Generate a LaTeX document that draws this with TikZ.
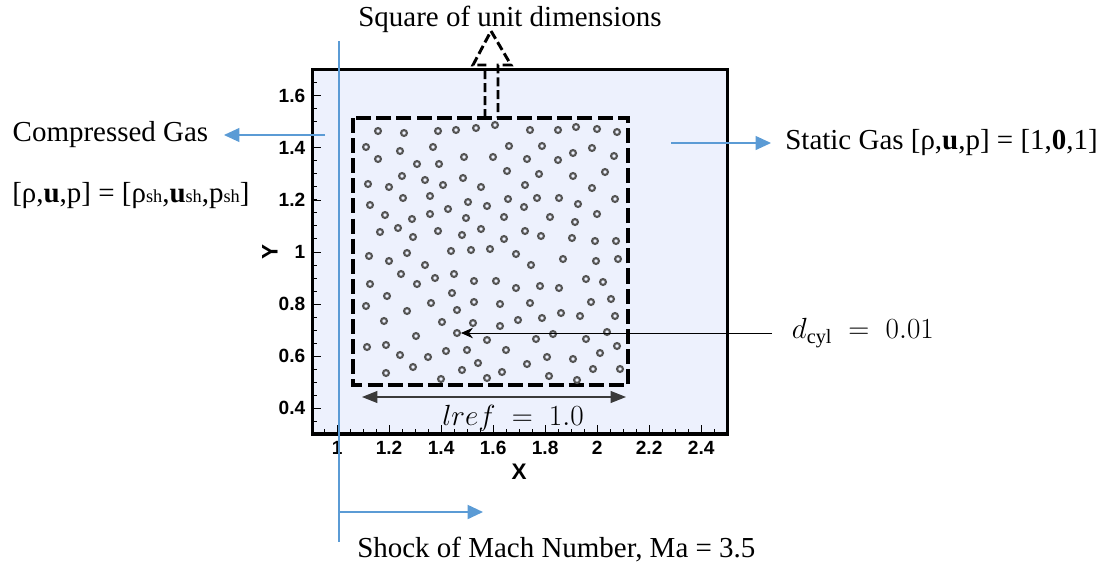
\documentclass[tikz,border=0pt]{standalone}
\usepackage{fontspec}
\setmainfont{Liberation Serif}
\newfontfamily\axisfont{Liberation Sans}
\usetikzlibrary{positioning,arrows.meta}
\definecolor{plotbg}{HTML}{EDF1FD}
\definecolor{shockblue}{HTML}{5B9BD5}
\definecolor{cylgrey}{HTML}{555555}
\definecolor{dimgrey}{HTML}{3A3A3A}
\newcommand{\bigtext}{\fontsize{20.6}{24}\selectfont}
\newcommand{\subsh}{{\fontsize{13}{13}\selectfont sh}}
\tikzset{
  lbl/.style       = {font=\bigtext, inner sep=0pt},
  ticklab/.style   = {font=\axisfont\bfseries\fontsize{13.6}{14}\selectfont, inner sep=0pt},
  axlab/.style     = {font=\axisfont\bfseries\fontsize{16}{18}\selectfont, inner sep=0pt},
  plotframe/.style = {draw=black, line width=2.2pt},
  tickmark/.style  = {line width=0.6pt},
  unitsq/.style    = {draw=black, line width=2.3pt, dash pattern=on 10.7pt off 3.6pt},
  sqarrow/.style   = {draw=black, line width=2.1pt, dash pattern=on 6.4pt off 2.8pt, line join=miter},
  cyl/.style       = {circle, draw=cylgrey, line width=1.5pt, minimum size=4.2pt, inner sep=0pt},
  bluearr/.style   = {-{Triangle[length=11pt, width=10pt]}, line width=0.8pt, draw=shockblue},
  shockline/.style = {line width=1.8pt, draw=shockblue},
  blkarr/.style    = {-{Stealth[length=8.5pt, width=7.5pt]}, line width=0.7pt},
  dimarr/.style    = {{Triangle[length=11pt, width=8.5pt]}-{Triangle[length=11pt, width=8.5pt]},
                      line width=0.9pt, draw=dimgrey},
}

\begin{document}
\begin{tikzpicture}[x=0.025cm, y=-0.025cm]
  \useasboundingbox (0,0) rectangle (1115,566);

  % --- plot axes, in data coordinates ---
  \begin{scope}[shift={(77,512)}, x=6.5cm, y=6.5cm]
    \fill[plotbg] (0.905,0.3) rectangle (2.5,1.7);
    \foreach \k in {19,...,50}
      \draw[tickmark] (\k*0.05,0.3) -- ++(0,0.019);
    \foreach \k in {6,...,34}
      \draw[tickmark] (0.905,\k*0.05) -- ++(0.019,0);
    \foreach \v [count=\i] in {1,1.2,1.4,1.6,1.8,2,2.2,2.4} {
      \draw[tickmark] (\v,0.3) -- ++(0,0.035);
      \node[ticklab] (xt\i) at (\v,0.246) {\v};
    }
    \foreach \v [count=\i] in {0.4,0.6,0.8,1,1.2,1.4,1.6} {
      \draw[tickmark] (0.905,\v) -- ++(0.035,0);
      \node[ticklab, anchor=east] (yt\i) at (0.879,\v) {\v};
    }
    \draw[plotframe] (0.905,0.3) rectangle (2.5,1.7);
    \node[axlab] (xlab) at (1.7,0.154) {X};
    \node[axlab, rotate=90] (ylab) at (0.742,1) {Y};
  \end{scope}

  % --- square of cylinders ---
  \draw[unitsq] (353,118) rectangle (628,385);
  \foreach \cx/\cy [count=\i] in {
      378/131, 404/133, 438/131, 456/130, 476/128, 366/147, 400/151, 433/147,
      378/159, 417/164, 439/164, 464/157, 402/176, 425/180, 463/178, 368/184,
      389/187, 443/185, 481/187, 403/198, 430/196, 370/205, 468/202, 487/206,
      448/209, 385/215, 412/219, 430/214, 466/218, 380/232, 398/228, 413/237,
      438/231, 462/235, 481/229,
      495/125, 530/130, 558/130, 576/127, 597/129, 617/132, 509/146, 542/146,
      573/153, 592/148, 493/157, 527/159, 558/160, 614/156, 507/171, 539/174,
      573/176, 605/172, 525/185, 592/188, 508/199, 537/198, 559/198, 524/207,
      578/204, 615/199, 504/217, 550/217, 575/222, 597/214, 525/231, 504/239,
      541/236, 572/238, 595/241, 616/241,
      369/256, 389/261, 407/253, 425/265, 451/251, 471/250, 401/274, 435/278,
      454/274, 474/281, 370/284, 417/284, 387/296, 452/293, 366/306, 431/303,
      474/302, 407/311, 457/310, 384/321, 442/322, 473/323, 416/336, 487/340,
      367/347, 386/345, 400/355, 428/357, 446/351, 467/350, 413/367, 386/373,
      462/370, 478/363, 441/379, 487/378,
      490/249, 516/254, 531/265, 563/259, 596/261, 618/259, 496/281, 516/288,
      540/286, 559/288, 586/279, 603/282, 500/304, 530/303, 591/302, 611/299,
      500/326, 518/320, 542/318, 561/313, 580/316, 615/316, 536/339, 553/334,
      586/339, 607/332, 506/350, 547/357, 573/359, 600/353, 617/346, 527/364,
      502/372, 549/376, 577/380, 593/369, 620/369}
    \node[cyl] (cyl\i) at (\cx,\cy) {};
  \node[cyl] (hit) at (457,333) {};

  \draw[sqarrow] (485,118) -- (485,65) -- (473,65) -- (491,31) -- (511,65) -- (498,65) -- (498,118);
  \node[lbl] (title) at (510,19) {Square of unit dimensions};

  % --- labels and arrows ---
  \coordinate (lrefl) at (362,397);
  \coordinate (lrefr) at (626,397);
  \draw[dimarr] (lrefl) -- (lrefr);
  \node[lbl] (lref) at (513,418) {$lref\;=\;1.0$};

  \coordinate (dcylfrom) at (772,333);
  \node[lbl, right=14pt of dcylfrom] (dcyl) {$d_{\mathrm{cyl}}\;=\;0.01$};
  \draw[blkarr] (dcylfrom) -- (hit);

  \coordinate (cgasfrom) at (325,135);
  \coordinate (cgasto) at (224,135);
  \draw[bluearr] (cgasfrom) -- (cgasto);
  \node[lbl, left=11pt of cgasto] (cgas) {Compressed Gas};
  \node[lbl, anchor=west] (cstate) at (12,196) {[ρ,\textbf{u},p] = [ρ\subsh,\textbf{u}\subsh,p\subsh]};

  \coordinate (sgasfrom) at (671,143);
  \coordinate (sgasto) at (771,143);
  \draw[bluearr] (sgasfrom) -- (sgasto);
  \node[lbl, right=10pt of sgasto] (sgas) {Static Gas [ρ,\textbf{u},p] = [1,\textbf{0},1]};

  \coordinate (shocktop) at (339,41);
  \coordinate (shockbot) at (339,542);
  \coordinate (shockdir) at (483,512);
  \draw[shockline] (shocktop) -- (shockbot);
  \draw[bluearr, line width=1.4pt] (shockbot |- shockdir) -- (shockdir);
  \node[lbl, anchor=west] (shock) at (357,550) {Shock of Mach Number, Ma = 3.5};
\end{tikzpicture}
\end{document}
